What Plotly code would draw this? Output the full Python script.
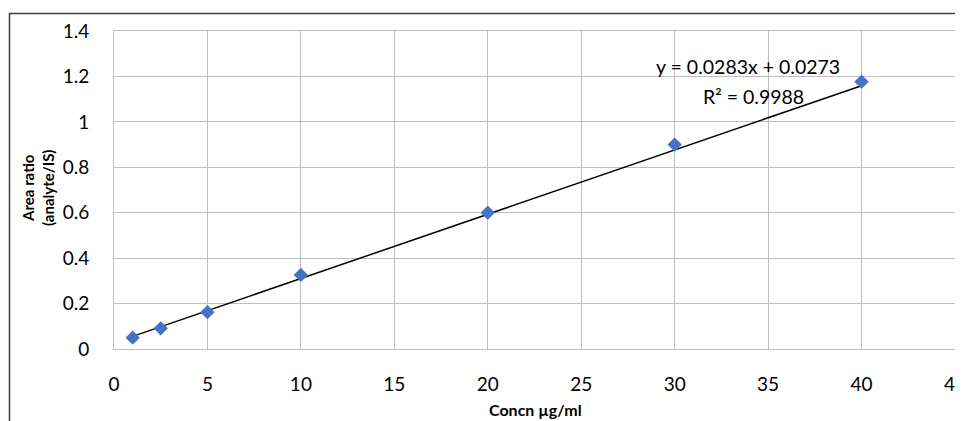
import plotly.graph_objects as go

conc = [1, 2.5, 5, 10, 20, 30, 40]
area_ratio = [0.05, 0.091, 0.162, 0.326, 0.60, 0.90, 1.177]
slope = 0.0283
intercept = 0.0273
x_ticks = [0, 5, 10, 15, 20, 25, 30, 35, 40, 45]
y_ticks = [0, 0.2, 0.4, 0.6, 0.8, 1.0, 1.2, 1.4]
y_tick_labels = ["0", "0.2", "0.4", "0.6", "0.8", "1", "1.2", "1.4"]

fit_x = [conc[0], conc[-1]]
fit_y = [slope * v + intercept for v in fit_x]

font = "Lato, 'Open Sans', sans-serif"

# page has an 8px body margin: figure occupies page 8..963 x 8..421
OFF = 8
W, H = 955, 413
L, R, T, B = 106, 8, 23, 72
pw = W - L - R
ph = H - T - B


def px(xp):  # page pixel -> paper
    return (xp - OFF - L) / pw


def py(yp):
    return 1 - (yp - OFF - T) / ph


fig = go.Figure()
fig.add_trace(go.Scatter(x=fit_x, y=fit_y, mode="lines",
                         line=dict(color="black", width=1.5), hoverinfo="skip"))
fig.add_trace(go.Scatter(x=conc, y=area_ratio, mode="markers",
                         marker=dict(symbol="diamond", size=11, color="#4472C4",
                                     line=dict(width=0))))

fig.update_layout(
    width=W, height=H,
    margin=dict(l=L, r=R, t=T, b=B, autoexpand=False),
    paper_bgcolor="white", plot_bgcolor="white",
    showlegend=False,
    font=dict(family=font, color="black", size=19),
    xaxis=dict(range=[0, 45], tickvals=x_ticks, showgrid=True, gridcolor="#BFBFBF",
               gridwidth=1, zeroline=False, showline=True, linecolor="#BFBFBF",
               mirror=True, ticks="", ticklabelstandoff=18, automargin=False,
               ticklabeloverflow="allow"),
    yaxis=dict(range=[0, 1.4], tickvals=y_ticks, ticktext=y_tick_labels, showgrid=True,
               gridcolor="#BFBFBF", gridwidth=1, zeroline=False, showline=True,
               linecolor="#BFBFBF", mirror=True, ticks="", ticklabelstandoff=20,
               automargin=False, ticklabeloverflow="allow"),
)


def label(xp, yp, text, size, angle=0):
    fig.add_annotation(x=px(xp), y=py(yp), xref="paper", yref="paper",
                       xanchor="center", yanchor="middle", textangle=angle,
                       text=text, showarrow=False, font=dict(size=size))


label(748, 67, "y = 0.0283x + 0.0273", 19.5)
label(753, 96, "R² = 0.9988", 19.5)
label(535, 409, "<b>Concn µg/ml</b>", 16)
label(38, 188, "<b>Area ratio<br>(analyte/IS)</b>", 15, angle=-90)

# outer chart frame (cropped in reference)
fig.add_shape(type="rect", xref="paper", yref="paper",
              x0=px(9.5), y0=py(440), x1=px(990), y1=py(13.5),
              line=dict(color="#404040", width=1.5), layer="above")

fig.write_html("out.html")
